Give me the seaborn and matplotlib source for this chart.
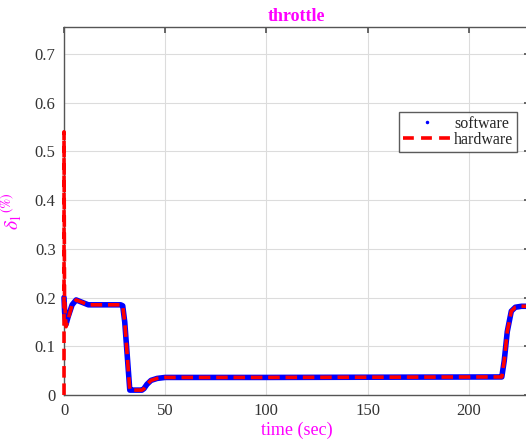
import numpy as np
import pandas as pd
import seaborn as sns
import matplotlib
matplotlib.use("Agg")
import matplotlib.pyplot as plt
from matplotlib.lines import Line2D
from matplotlib.ticker import FuncFormatter

# ---- data ----
t_sw = [0, 0.3, 1, 2, 4, 6, 9, 12, 28, 29, 30, 32.5, 34, 38.5, 39.5, 41, 43, 46, 50, 100, 215, 216.3, 217.5, 219, 221, 223, 226, 230]
y_sw = [0.20, 0.17, 0.145, 0.16, 0.185, 0.195, 0.19, 0.185, 0.185, 0.183, 0.15, 0.01, 0.01, 0.01, 0.013, 0.022, 0.03, 0.034, 0.036, 0.036, 0.037, 0.037, 0.07, 0.13, 0.172, 0.18, 0.182, 0.182]

t_hw = [0, 0, 0.25, 1, 2, 4, 6, 9, 12, 28, 29, 30, 32.5, 34, 38.5, 39.5, 41, 43, 46, 50, 100, 215, 216.3, 217.5, 219, 221, 223, 226, 230]
y_hw = [0.0, 0.54, 0.20, 0.14, 0.155, 0.185, 0.195, 0.19, 0.185, 0.185, 0.183, 0.15, 0.01, 0.01, 0.01, 0.013, 0.022, 0.03, 0.034, 0.036, 0.036, 0.037, 0.037, 0.07, 0.13, 0.172, 0.18, 0.182, 0.182]

x_ticks = [0, 50, 100, 150, 200]
y_ticks = [0, 0.1, 0.2, 0.3, 0.4, 0.5, 0.6, 0.7]

sns.set_theme(style="whitegrid")
plt.rcParams['font.family'] = ['Liberation Serif', 'DejaVu Serif']
plt.rcParams['mathtext.fontset'] = 'stix'

fig = plt.figure(figsize=(5.26, 4.43), dpi=100)
ax = fig.add_axes([0.1217, 0.1084, 0.885, 0.8306])

df_sw = pd.DataFrame({"t": t_sw, "v": y_sw})
df_hw = pd.DataFrame({"t": t_hw, "v": y_hw})

sns.lineplot(data=df_sw, x="t", y="v", ax=ax, color="#0000ff", linewidth=4.0,
             sort=False, estimator=None, legend=False, zorder=3, clip_on=False)
sns.lineplot(data=df_hw, x="t", y="v", ax=ax, color="#ff0000", linewidth=2.6,
             sort=False, estimator=None, legend=False, linestyle=(0, (3.2, 1.6)),
             zorder=4, clip_on=False)

ax.set_xlim(0, 230)
ax.set_ylim(0, 0.755)
ax.set_xticks(x_ticks)
ax.set_yticks(y_ticks)
ax.yaxis.set_major_formatter(FuncFormatter(lambda v, p: ("%g" % round(v, 2))))
ax.grid(True, color="#dcdcdc", linewidth=0.8)
ax.set_facecolor("white")
for s in ax.spines.values():
    s.set_color("#555555")
    s.set_linewidth(1.0)
ax.tick_params(direction="in", length=4, colors="#555555", labelsize=12,
               labelcolor="#333333", top=True, right=True, pad=6)

ax.set_title("throttle", color="#ff00ff", fontweight="bold", fontsize=13, pad=4)
ax.set_xlabel("time (sec)", color="#ff00ff", fontsize=13, labelpad=2)
ax.set_ylabel(r"$\delta_{1}$" + r"$^{(\%)}$", color="#ff00ff", fontsize=14, labelpad=8)

handles = [Line2D([], [], color="#0000ff", marker=".", linestyle="none", markersize=3),
           Line2D([], [], color="#ff0000", linestyle=(0, (3, 2)), linewidth=2.6)]
leg = ax.legend(handles, ["software", "hardware"], loc="upper right",
                bbox_to_anchor=(0.974, 0.77), fontsize=11.5, frameon=True, fancybox=False,
                edgecolor="#333333", handlelength=3.0, handletextpad=0.2,
                borderpad=0.25, labelspacing=0.0, borderaxespad=0)
leg.get_frame().set_linewidth(1.0)

fig.savefig("out.png", dpi=100)
